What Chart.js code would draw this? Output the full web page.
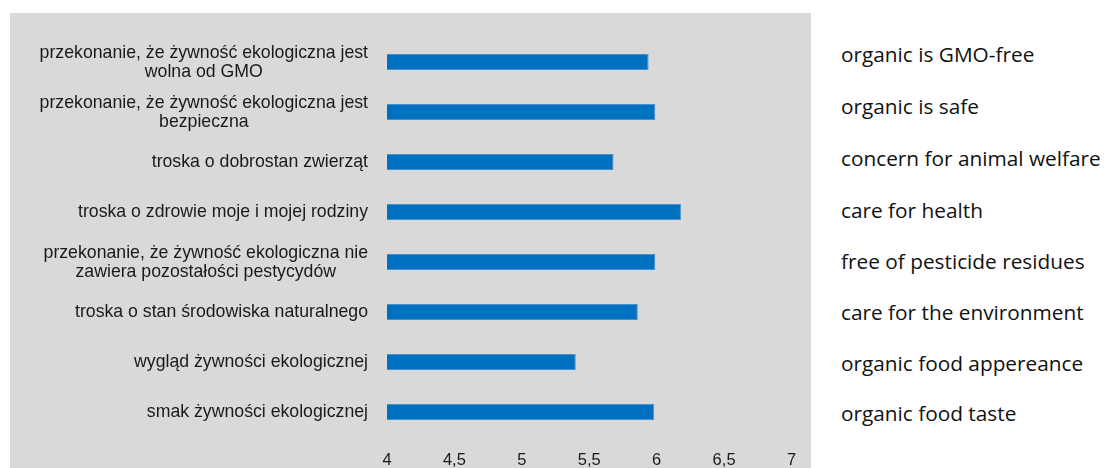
<!DOCTYPE html>
<html>
<head>
    <title>Motywy zakupu żywności ekologicznej</title>
    <script src="https://cdn.jsdelivr.net/npm/chart.js@4.4.1/dist/chart.umd.min.js"></script>
    <style>
        body {
            margin: 0;
            width: 1105px;
            height: 468px;
            background: #ffffff;
            overflow: hidden;
            position: relative;
        }
        .panel {
            position: absolute;
            left: 10px;
            top: 13px;
            width: 801px;
            height: 455px;
            background: #d9d9d9;
        }
        .english {
            position: absolute;
            left: 841px;
            top: 0;
            font-family: "Open Sans", Lato, sans-serif;
            font-size: 20.8px;
            color: #111;
        }
        .english div {
            position: absolute;
            white-space: nowrap;
            transform: translateY(-50%);
        }
    </style>
</head>
<body>
    <div class="panel">
        <canvas id="motives" width="801" height="455"></canvas>
    </div>
    <div class="english" id="english"></div>

    <script>
        // Polish category labels (multi-line ones split into lines)
        const categories = [
            ['przekonanie, że żywność ekologiczna jest', 'wolna od GMO'],
            ['przekonanie, że żywność ekologiczna jest', 'bezpieczna'],
            ['troska o dobrostan zwierząt'],
            ['troska o zdrowie moje i mojej rodziny'],
            ['przekonanie, że żywność ekologiczna nie', 'zawiera pozostałości pestycydów'],
            ['troska o stan środowiska naturalnego'],
            ['wygląd żywności ekologicznej'],
            ['smak żywności ekologicznej']
        ];

        // English translations shown beside the chart
        const translations = [
            'organic is GMO-free',
            'organic is safe',
            'concern for animal welfare',
            'care for health',
            'free of pesticide residues',
            'care for the environment',
            'organic food appereance',
            'organic food taste'
        ];

        // mean scores
        const scores = [5.94, 5.99, 5.68, 6.18, 5.99, 5.86, 5.40, 5.98];

        const tickValues = [4, 4.5, 5, 5.5, 6, 6.5, 7];
        const tickLabels = ['4', '4,5', '5', '5,5', '6', '6,5', '7'];

        const labelFont = '17.7px "Liberation Sans", Arial, sans-serif';

        // draws the y labels: block right-aligned, lines centred on each other
        const categoryLabels = {
            id: 'categoryLabels',
            afterDraw(chart) {
                const ctx = chart.ctx;
                const yScale = chart.scales.y;
                const rightEdge = 358;
                const lineHeight = 18.5;
                ctx.save();
                ctx.font = labelFont;
                ctx.fillStyle = '#1a1a1a';
                ctx.textAlign = 'center';
                ctx.textBaseline = 'middle';
                categories.forEach((lines, i) => {
                    const y = yScale.getPixelForValue(i);
                    const widest = Math.max(...lines.map(l => ctx.measureText(l).width));
                    const cx = rightEdge - widest / 2;
                    const top = y - (lines.length - 1) * lineHeight / 2 + 0.5;
                    lines.forEach((line, j) => {
                        ctx.fillText(line, cx, top + j * lineHeight);
                    });
                });
                ctx.restore();
            }
        };

        const chart = new Chart(document.getElementById('motives'), {
            type: 'bar',
            data: {
                labels: categories.map(c => c.join(' ')),
                datasets: [{
                    data: scores,
                    backgroundColor: '#0070c0',
                    borderColor: '#4b8fcc',
                    borderWidth: 1,
                    borderSkipped: false,
                    barPercentage: 0.64,
                    categoryPercentage: 0.5
                }]
            },
            options: {
                indexAxis: 'y',
                responsive: false,
                animation: false,
                layout: {
                    padding: { top: 24, right: 19.5, bottom: 0, left: 0 }
                },
                plugins: {
                    legend: { display: false },
                    tooltip: { enabled: false }
                },
                scales: {
                    x: {
                        min: 4,
                        max: 7,
                        afterBuildTicks(scale) {
                            scale.ticks = tickValues.map(v => ({ value: v }));
                        },
                        afterFit(scale) {
                            scale.height = 31;
                        },
                        grid: { display: false, drawTicks: false },
                        border: { display: false },
                        ticks: {
                            padding: 14,
                            color: '#1a1a1a',
                            font: { family: '"Liberation Sans", Arial, sans-serif', size: 16.5 },
                            maxRotation: 0,
                            callback: (value) => tickLabels[tickValues.indexOf(value)]
                        }
                    },
                    y: {
                        afterFit(scale) {
                            scale.width = 377;
                        },
                        grid: { display: false, drawTicks: false },
                        border: { display: false },
                        ticks: { display: false }
                    }
                }
            },
            plugins: [categoryLabels]
        });

        // English labels next to the panel
        const englishTops = [54, 106, 158, 210, 261, 312, 363, 413];
        const english = document.getElementById('english');
        translations.forEach((text, i) => {
            const div = document.createElement('div');
            div.textContent = text;
            div.style.top = englishTops[i] + 'px';
            english.appendChild(div);
        });
    </script>
</body>
</html>
